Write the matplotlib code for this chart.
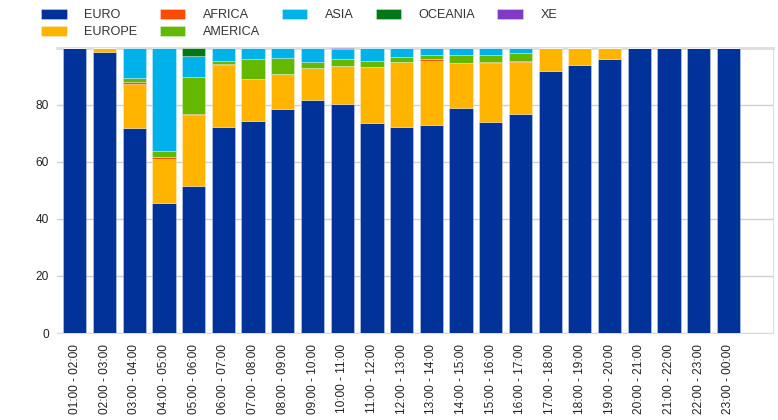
import numpy as np
import matplotlib
matplotlib.use('Agg')
import matplotlib.pyplot as plt

plt.rcParams['font.family'] = ['Liberation Sans', 'DejaVu Sans']

hours = ['01:00 - 02:00', '02:00 - 03:00', '03:00 - 04:00', '04:00 - 05:00',
         '05:00 - 06:00', '06:00 - 07:00', '07:00 - 08:00', '08:00 - 09:00',
         '09:00 - 10:00', '10:00 - 11:00', '11:00 - 12:00', '12:00 - 13:00',
         '13:00 - 14:00', '14:00 - 15:00', '15:00 - 16:00', '16:00 - 17:00',
         '17:00 - 18:00', '18:00 - 19:00', '19:00 - 20:00', '20:00 - 21:00',
         '21:00 - 22:00', '22:00 - 23:00', '23:00 - 00:00']

euro = [100.0, 98.7, 71.8, 45.7, 51.7, 72.4, 74.5, 78.6, 81.6, 80.2, 73.6, 72.3,
        73.1, 78.9, 74.2, 76.9, 91.9, 94.2, 96.0, 100.0, 100.0, 100.0, 100.0]
europe = [0.0, 1.3, 15.6, 15.4, 24.8, 21.6, 14.6, 12.2, 11.4, 13.6, 19.7, 22.7,
          22.4, 15.7, 20.4, 18.1, 8.0, 5.8, 4.0, 0.0, 0.0, 0.0, 0.0]
africa = [0.0, 0.0, 0.5, 0.6, 0.4, 0.5, 0.0, 0.0, 0.0, 0.0, 0.0, 0.0,
          0.5, 0.3, 0.4, 0.3, 0.0, 0.0, 0.0, 0.0, 0.0, 0.0, 0.0]
america = [0.0, 0.0, 1.5, 2.0, 12.8, 1.0, 6.9, 5.8, 2.2, 2.2, 2.0, 1.8,
           1.4, 2.6, 2.6, 2.8, 0.1, 0.0, 0.0, 0.0, 0.0, 0.0, 0.0]
asia = [0.0, 0.0, 10.6, 36.3, 7.6, 4.5, 4.0, 3.4, 4.8, 3.8, 4.7, 3.2,
        2.6, 2.5, 2.4, 1.9, 0.0, 0.0, 0.0, 0.0, 0.0, 0.0, 0.0]
oceania = [0.0, 0.0, 0.0, 0.0, 2.7, 0.0, 0.0, 0.0, 0.0, 0.0, 0.0, 0.0,
           0.0, 0.0, 0.0, 0.0, 0.0, 0.0, 0.0, 0.0, 0.0, 0.0, 0.0]
xe = [0.0, 0.0, 0.0, 0.0, 0.0, 0.0, 0.0, 0.0, 0.0, 0.2, 0.0, 0.0,
      0.0, 0.0, 0.0, 0.0, 0.0, 0.0, 0.0, 0.0, 0.0, 0.0, 0.0]

series = [('EURO', euro, '#003299'),
          ('EUROPE', europe, '#FFB400'),
          ('AFRICA', africa, '#FF4B00'),
          ('AMERICA', america, '#65B800'),
          ('ASIA', asia, '#00B1EA'),
          ('OCEANIA', oceania, '#007816'),
          ('XE', xe, '#8139C6')]

fig = plt.figure(figsize=(7.78, 4.2), dpi=100)
ax = fig.add_axes([57/778, 87/420, 716/778, 285/420])

x = np.arange(len(hours))
bottom = np.zeros(len(hours))
handles = {}
for name, vals, col in series:
    vals = np.array(vals)
    b = ax.bar(x, vals, 0.78, bottom=bottom, color=col,
               edgecolor=(1, 1, 1, 0.35), linewidth=0.6, zorder=3)
    handles[name] = b
    bottom += vals

ax.set_xlim(-0.6, 23.5)
ax.set_ylim(0, 100)
ax.set_yticks([0, 20, 40, 60, 80])
ax.set_xticks(x)
ax.set_xticklabels(hours, rotation=90, fontsize=8.6, color='#222222')
ax.tick_params(axis='y', labelsize=8.6, labelcolor='#222222', length=0, pad=6)
ax.tick_params(axis='x', length=0, pad=8)
ax.grid(axis='y', color='#d0d0d0', linewidth=1, zorder=0)
for s in ax.spines.values():
    s.set_color('#dddddd')
ax.spines['top'].set_linewidth(2)
ax.spines['left'].set_visible(False)

order = ['EURO', 'EUROPE', 'AFRICA', 'AMERICA', 'ASIA', 'OCEANIA', 'XE']
fig.legend([handles[n] for n in order], order, loc='upper left',
           bbox_to_anchor=(35/778, 1 - 3/420), ncol=5, frameon=False,
           fontsize=9.1, handlelength=2.0, handleheight=0.75,
           handletextpad=1.4, columnspacing=1.75, labelspacing=0.4,
           borderpad=0, labelcolor='#333333')

fig.savefig('out.png', dpi=100)
